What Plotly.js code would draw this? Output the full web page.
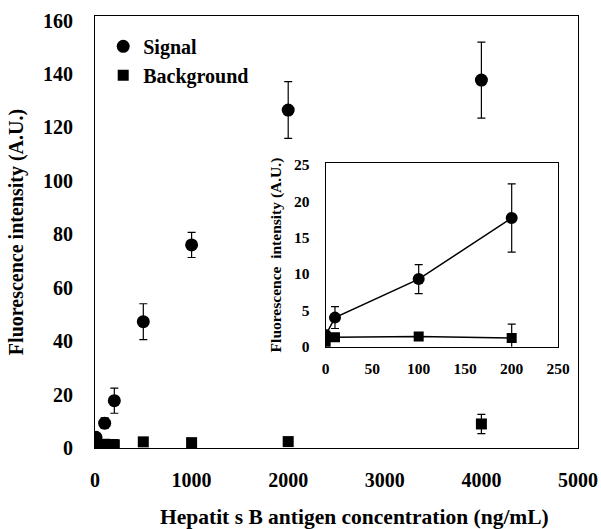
<!DOCTYPE html>
<html>
<head>
<meta charset="utf-8">
<script src="https://cdn.plot.ly/plotly-3.0.1.min.js"></script>
<style>html,body{margin:0;padding:0;background:#fff;}#chart{width:601px;height:529px;}</style>
</head>
<body>
<div id="chart"></div>
<script>
// Data
const conc = [0, 10, 100, 200, 500, 1000, 2000, 4000];
const signal = [1.6, 4.0, 9.3, 17.7, 47.3, 76.0, 126.5, 137.7];
const signalErr = [0.3, 1.5, 2.0, 4.7, 6.7, 4.7, 10.6, 14.2];
const background = [0.6, 1.3, 1.4, 1.2, 2.3, 2.0, 2.4, 9.0];
const backgroundErr = [0.2, 0.3, 0.3, 1.9, 0.5, 0.5, 0.5, 3.6];
const mainXTicks = [0, 1000, 2000, 3000, 4000, 5000];
const mainYTicks = [0, 20, 40, 60, 80, 100, 120, 140, 160];
const insetXTicks = [0, 50, 100, 150, 200, 250];
const insetYTicks = [0, 5, 10, 15, 20, 25];
const insetMax = 200;
const xTitle = 'Hepatit s B antigen concentration (ng/mL)';
const yTitle = 'Fluorescence intensity (A.U.)';
const insetYTitle = 'Fluorescence  intensity (A.U.)';

const FONT = '"Liberation Serif", "Times New Roman", serif';
const b = (v) => '<b>' + v + '</b>';

const insIdx = conc.map((c, i) => i).filter(i => conc[i] <= insetMax);
const pick = (arr) => insIdx.map(i => arr[i]);

const traces = [
  {
    x: conc, y: signal, name: b('Signal'), type: 'scatter', mode: 'markers',
    marker: {symbol: 'circle', size: 13, color: '#000'},
    error_y: {type: 'data', array: signalErr, visible: true, color: '#000', thickness: 1.2, width: 4},
    xaxis: 'x', yaxis: 'y'
  },
  {
    x: conc, y: background, name: b('Background'), type: 'scatter', mode: 'markers',
    marker: {symbol: 'square', size: 11, color: '#000'},
    error_y: {type: 'data', array: backgroundErr, visible: true, color: '#000', thickness: 1.2, width: 4},
    xaxis: 'x', yaxis: 'y'
  },
  {
    x: pick(conc), y: pick(signal), name: 'Signal', type: 'scatter', mode: 'lines+markers',
    showlegend: false,
    line: {color: '#000', width: 1.5},
    marker: {symbol: 'circle', size: 12, color: '#000'},
    error_y: {type: 'data', array: pick(signalErr), visible: true, color: '#000', thickness: 1.2, width: 4},
    xaxis: 'x2', yaxis: 'y2'
  },
  {
    x: pick(conc), y: pick(background), name: 'Background', type: 'scatter', mode: 'lines+markers',
    showlegend: false,
    line: {color: '#000', width: 1.5},
    marker: {symbol: 'square', size: 10, color: '#000'},
    error_y: {type: 'data', array: pick(backgroundErr), visible: true, color: '#000', thickness: 1.2, width: 4},
    xaxis: 'x2', yaxis: 'y2'
  }
];

const axisCommon = {
  showgrid: false, zeroline: false, showline: true, mirror: true,
  linecolor: '#000', linewidth: 1, ticks: ''
};

const layout = {
  width: 601, height: 529,
  margin: {l: 95, r: 23, t: 16, b: 81},
  paper_bgcolor: '#fff', plot_bgcolor: 'rgba(0,0,0,0)',
  font: {family: FONT, color: '#000', size: 20, weight: 700},
  showlegend: true,
  legend: {
    x: 0.017, y: 0.975, xanchor: 'left', yanchor: 'top',
    bgcolor: 'rgba(0,0,0,0)', borderwidth: 0,
    font: {family: FONT, size: 20, color: '#000', weight: 700},
    itemwidth: 30, tracegroupgap: 0
  },
  annotations: [{
    text: b(xTitle), xref: 'paper', yref: 'paper', x: 0.5, y: -0.16,
    xanchor: 'center', yanchor: 'middle', xshift: 18, showarrow: false,
    font: {family: FONT, size: 21.5, weight: 700, color: '#000'}
  }],
  xaxis: Object.assign({}, axisCommon, {
    domain: [0, 1], range: [0, 5000],
    tickmode: 'array', tickvals: mainXTicks, ticktext: mainXTicks.map(b),
    tickfont: {family: FONT, size: 20, weight: 700},
    ticklabelstandoff: 14,
    anchor: 'y'
  }),
  yaxis: Object.assign({}, axisCommon, {
    domain: [0, 1], range: [0, 161.7],
    tickmode: 'array', tickvals: mainYTicks, ticktext: mainYTicks.map(b),
    tickfont: {family: FONT, size: 20, weight: 700},
    ticklabelstandoff: 17,
    title: {text: b(yTitle), font: {family: FONT, size: 20, weight: 700}, standoff: 14},
    anchor: 'x'
  }),
  xaxis2: Object.assign({}, axisCommon, {
    domain: [0.4776, 0.959], range: [0, 250],
    tickmode: 'array', tickvals: insetXTicks, ticktext: insetXTicks.map(b),
    tickfont: {family: FONT, size: 15.5, weight: 700},
    ticklabelstandoff: 8,
    anchor: 'y2'
  }),
  yaxis2: Object.assign({}, axisCommon, {
    domain: [0.2345, 0.659], range: [0, 25.23],
    tickmode: 'array', tickvals: insetYTicks, ticktext: insetYTicks.map(b),
    tickfont: {family: FONT, size: 15.5, weight: 700},
    ticklabelstandoff: 12,
    title: {text: b(insetYTitle), font: {family: FONT, size: 15.5, weight: 700}, standoff: 8},
    anchor: 'x2'
  })
};

Plotly.newPlot('chart', traces, layout, {staticPlot: true, displayModeBar: false});
</script>
</body>
</html>
